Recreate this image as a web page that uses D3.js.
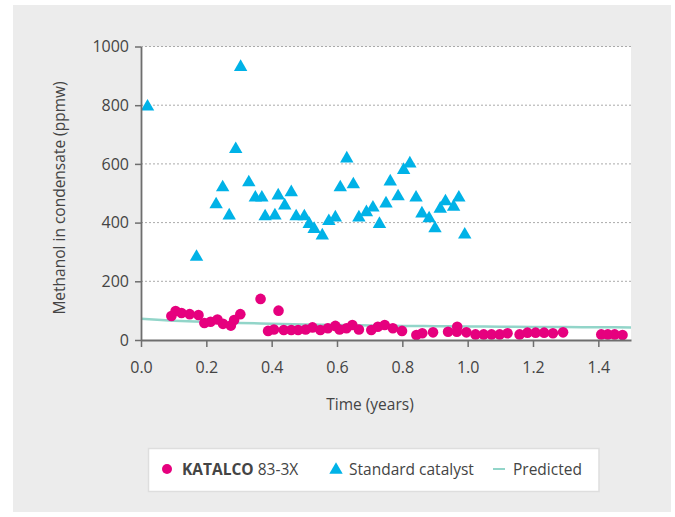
<!DOCTYPE html>
<html>
<head>
<meta charset="utf-8">
<script src="https://cdn.jsdelivr.net/npm/d3@7"></script>
<style>
  body { margin: 0; background: #fff; }
  svg text { font-family: "Open Sans", sans-serif; }
</style>
</head>
<body>
<div id="chart"></div>
<script>
// KATALCO 83-3X (time in years, methanol ppmw)
const katalcoT = [0.093, 0.106, 0.124, 0.149, 0.176, 0.194, 0.213, 0.234, 0.251, 0.275, 0.285, 0.304,
  0.366, 0.389, 0.407, 0.421, 0.437, 0.460, 0.481, 0.504, 0.525, 0.549, 0.572, 0.595, 0.608, 0.629,
  0.647, 0.667, 0.705, 0.725, 0.746, 0.771, 0.799, 0.843, 0.861, 0.894, 0.940, 0.967, 0.968, 0.996,
  1.024, 1.049, 1.073, 1.098, 1.122, 1.159, 1.183, 1.208, 1.234, 1.261, 1.292, 1.409, 1.429, 1.450, 1.474];
const katalcoV = [82, 99, 92, 88, 85, 58, 62, 70, 55, 49, 68, 88,
  140, 31, 36, 100, 34, 34, 34, 36, 43, 34, 40, 48, 36, 40,
  51, 36, 34, 45, 51, 40, 31, 17, 23, 26, 28, 28, 45, 26,
  19, 19, 19, 19, 23, 19, 25, 25, 25, 23, 26, 19, 19, 19, 17];

// Standard catalyst
const standardT = [0.02, 0.17, 0.23, 0.25, 0.27, 0.29, 0.305, 0.33, 0.35, 0.37, 0.38, 0.41, 0.42, 0.44,
  0.46, 0.475, 0.50, 0.515, 0.53, 0.555, 0.575, 0.595, 0.61, 0.63, 0.65, 0.667, 0.69, 0.71, 0.73, 0.75,
  0.763, 0.787, 0.804, 0.823, 0.842, 0.860, 0.882, 0.900, 0.916, 0.932, 0.957, 0.973, 0.991];
const standardV = [795, 283, 462, 520, 424, 650, 930, 537, 485, 485, 421, 424, 492, 458,
  503, 421, 421, 395, 378, 356, 405, 417, 520, 618, 530, 417, 435, 451, 395, 465,
  540, 489, 579, 601, 485, 431, 414, 380, 447, 472, 454, 485, 359];

// Predicted curve
const predictedT = [0, 0.1, 0.2, 0.3, 0.4, 0.5, 0.6, 0.7, 0.8, 0.9, 1.0, 1.1, 1.2, 1.3, 1.4, 1.5];
const predictedV = [72, 66, 62, 58, 55.5, 53, 51, 49.5, 48, 47, 46, 45.3, 44.6, 44, 43.5, 43];

const yTicks = [0, 200, 400, 600, 800, 1000];
const xTicks = [0, 0.2, 0.4, 0.6, 0.8, 1.0, 1.2, 1.4];

const width = 675, height = 517,
    margin = {top: 46.5, right: 44, bottom: 177, left: 141};

const svg = d3.select("#chart").append("svg")
    .attr("width", width)
    .attr("height", height);

// grey panel
svg.append("rect")
    .attr("x", 13).attr("y", 5)
    .attr("width", 658).attr("height", 507)
    .attr("fill", "#ececec");

const x = d3.scaleLinear().domain([0, 1.5]).range([margin.left, width - margin.right]);
const y = d3.scaleLinear().domain([0, 1000]).range([height - margin.bottom, margin.top]);

// white plot area
svg.append("rect")
    .attr("x", x(0)).attr("y", y(1000))
    .attr("width", x(1.5) - x(0)).attr("height", y(0) - y(1000))
    .attr("fill", "#fff");

// dotted gridlines
svg.append("g").selectAll("line")
    .data(yTicks.filter(d => d > 0))
    .join("line")
    .attr("x1", x(0)).attr("x2", x(1.5))
    .attr("y1", d => y(d)).attr("y2", d => y(d))
    .attr("stroke", "#aaa")
    .attr("stroke-width", 1)
    .attr("stroke-dasharray", "2,2");

// predicted line
const predicted = predictedT.map((t, i) => ({t: t, v: predictedV[i]}));
svg.append("path")
    .datum(predicted)
    .attr("fill", "none")
    .attr("stroke", "#92d5c9")
    .attr("stroke-width", 2.5)
    .attr("d", d3.line().x(d => x(d.t)).y(d => y(d.v)).curve(d3.curveMonotoneX));

// KATALCO circles
const katalco = katalcoT.map((t, i) => ({t: t, v: katalcoV[i]}));
svg.append("g").selectAll("circle")
    .data(katalco)
    .join("circle")
    .attr("cx", d => x(d.t))
    .attr("cy", d => y(d.v))
    .attr("r", 5.3)
    .attr("fill", "#e6007e");

// standard triangles
const standard = standardT.map((t, i) => ({t: t, v: standardV[i]}));
const tri = d3.symbol().type(d3.symbolTriangle).size(78);
svg.append("g").selectAll("path")
    .data(standard)
    .join("path")
    .attr("transform", d => `translate(${x(d.t)},${y(d.v)})`)
    .attr("d", tri)
    .attr("fill", "#00b2e7");

// axes
const yAxis = svg.append("g")
    .attr("transform", `translate(${x(0)},0)`)
    .call(d3.axisLeft(y).tickValues(yTicks).tickFormat(d3.format("d")).tickSize(6).tickSizeOuter(0).tickPadding(6));
const xAxis = svg.append("g")
    .attr("transform", `translate(0,${y(0)})`)
    .call(d3.axisBottom(x).tickValues(xTicks).tickFormat(d3.format(".1f")).tickSize(7).tickSizeOuter(0).tickPadding(15));

[yAxis, xAxis].forEach(a => {
  a.select(".domain").attr("stroke", "#6e6e6e").attr("stroke-width", 1.8);
  a.selectAll(".tick line").attr("stroke", "#6e6e6e").attr("stroke-width", 1.5);
  a.selectAll(".tick text").attr("fill", "#444").style("font-size", "16px");
});

// axis titles
svg.append("text")
    .attr("transform", "translate(65,198) rotate(-90)")
    .attr("text-anchor", "middle")
    .attr("fill", "#444")
    .style("font-size", "15.5px")
    .text("Methanol in condensate (ppmw)");

svg.append("text")
    .attr("x", 370).attr("y", 410)
    .attr("text-anchor", "middle")
    .attr("fill", "#444")
    .style("font-size", "15.5px")
    .text("Time (years)");

// legend
const legend = svg.append("g");
legend.append("rect")
    .attr("x", 148.5).attr("y", 448.5)
    .attr("width", 450.5).attr("height", 43)
    .attr("fill", "#fff")
    .attr("stroke", "#dedede")
    .attr("stroke-width", 1.5);

const ly = 469;
legend.append("circle").attr("cx", 167).attr("cy", ly).attr("r", 5).attr("fill", "#e6007e");
const t1 = legend.append("text").attr("x", 182).attr("y", ly + 5.5)
    .attr("fill", "#444").style("font-size", "15.5px");
t1.append("tspan").attr("font-weight", "bold").text("KATALCO");
t1.append("tspan").text(" 83-3X");

legend.append("path")
    .attr("transform", `translate(336,${ly + 1})`)
    .attr("d", tri)
    .attr("fill", "#00b2e7");
legend.append("text").attr("x", 349).attr("y", ly + 5.5)
    .attr("fill", "#444").style("font-size", "15.5px")
    .text("Standard catalyst");

legend.append("line")
    .attr("x1", 493).attr("x2", 505)
    .attr("y1", ly).attr("y2", ly)
    .attr("stroke", "#92d5c9").attr("stroke-width", 2);
legend.append("text").attr("x", 513).attr("y", ly + 5.5)
    .attr("fill", "#444").style("font-size", "15.5px")
    .text("Predicted");
</script>
</body>
</html>
